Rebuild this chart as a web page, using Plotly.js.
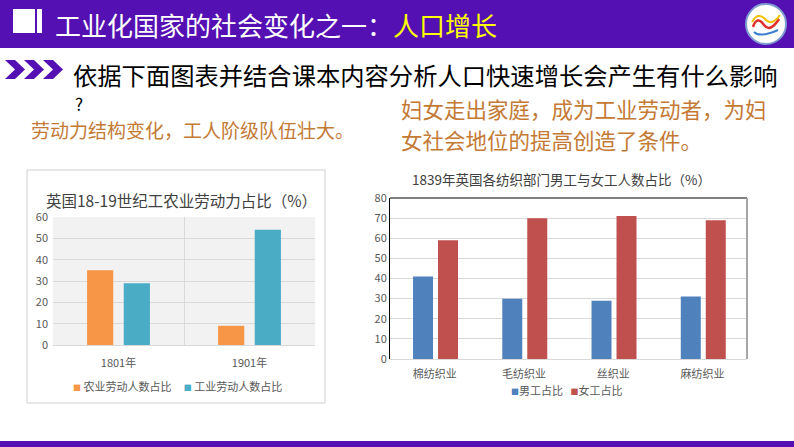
<!DOCTYPE html>
<html>
<head>
<meta charset="utf-8">
<script src="https://cdn.plot.ly/plotly-3.0.1.min.js"></script>
<style>
html,body{margin:0;padding:0;background:#fff;}
#chart{width:794px;height:447px;}
</style>
</head>
<body>
<div id="chart"></div>
<script>
// ---- Data ----
const leftTitle = '英国18-19世纪工农业劳动力占比（%）';
const leftYears = ['1801年', '1901年'];
const agriName = '农业劳动人数占比';
const agriValues = [35, 9];
const induName = '工业劳动人数占比';
const induValues = [29, 54];

const rightTitle = '1839年英国各纺织部门男工与女工人数占比（%）';
const sectors = ['棉纺织业', '毛纺织业', '丝织业', '麻纺织业'];
const maleName = '男工占比';
const maleValues = [41, 30, 29, 31];
const femaleName = '女工占比';
const femaleValues = [59, 70, 71, 69];

const slideTitle = '工业化国家的社会变化之一：';
const slideTitleHi = '人口增长';
const question = '依据下面图表并结合课本内容分析人口快速增长会产生有什么影响';
const noteLeft = '劳动力结构变化，工人阶级队伍壮大。';
const noteRight1 = '妇女走出家庭，成为工业劳动者，为妇';
const noteRight2 = '女社会地位的提高创造了条件。';

// ---- Layout helpers (pixel -> paper) ----
const W = 794, H = 447;
const px = x => x / W;
const py = y => 1 - y / H;
const pt = (x, y) => px(x).toFixed(5) + ',' + py(y).toFixed(5);
const FONT = '"Noto Sans CJK SC", "Noto Sans", sans-serif';
const PURPLE = '#5410b2';
const C_AGRI = '#F79646', C_INDU = '#4BACC6', C_MALE = '#4F81BD', C_FEMALE = '#C0504D';

const traces = [
  {type: 'bar', name: agriName, x: leftYears, y: agriValues, xaxis: 'x', yaxis: 'y',
   marker: {color: C_AGRI}, width: 0.2, offset: -0.24, hoverinfo: 'y'},
  {type: 'bar', name: induName, x: leftYears, y: induValues, xaxis: 'x', yaxis: 'y',
   marker: {color: C_INDU}, width: 0.2, offset: 0.04, hoverinfo: 'y'},
  {type: 'bar', name: maleName, x: sectors, y: maleValues, xaxis: 'x2', yaxis: 'y2',
   marker: {color: C_MALE}, width: 0.224, offset: -0.242, hoverinfo: 'y'},
  {type: 'bar', name: femaleName, x: sectors, y: femaleValues, xaxis: 'x2', yaxis: 'y2',
   marker: {color: C_FEMALE}, width: 0.224, offset: 0.038, hoverinfo: 'y'}
];

// chevrons
function chevron(x0, y0, w, h) {
  return 'M' + pt(x0, y0) + ' L' + pt(x0 + w * 0.5, y0) + ' L' + pt(x0 + w, y0 + h / 2) +
         ' L' + pt(x0 + w * 0.5, y0 + h) + ' L' + pt(x0, y0 + h) + ' L' + pt(x0 + w * 0.5, y0 + h / 2) + ' Z';
}

const shapes = [
  // header band
  {type: 'rect', xref: 'paper', yref: 'paper', x0: 0, x1: 1, y0: py(48), y1: 1, fillcolor: PURPLE, line: {width: 0}, layer: 'below'},
  // bottom band
  {type: 'rect', xref: 'paper', yref: 'paper', x0: 0, x1: 1, y0: 0, y1: py(441), fillcolor: PURPLE, line: {width: 0}, layer: 'below'},
  // header icon
  {type: 'rect', xref: 'paper', yref: 'paper', x0: px(13), x1: px(35), y0: py(33), y1: py(9), fillcolor: '#ffffff', line: {width: 0}},
  {type: 'rect', xref: 'paper', yref: 'paper', x0: px(37), x1: px(42), y0: py(33), y1: py(9), fillcolor: '#ffffff', line: {width: 0}},
  // logo
  {type: 'circle', xref: 'paper', yref: 'paper', x0: px(746), x1: px(786), y0: py(44), y1: py(4), fillcolor: '#ffffff', line: {color: '#7f9cd0', width: 2}},
  {type: 'path', xref: 'paper', yref: 'paper', path: 'M' + pt(753, 27) + ' Q' + pt(757, 15) + ' ' + pt(764, 25) + ' Q' + pt(770, 33) + ' ' + pt(779, 19), line: {color: '#e0302a', width: 2.5}},
  {type: 'path', xref: 'paper', yref: 'paper', path: 'M' + pt(752, 22) + ' Q' + pt(758, 11) + ' ' + pt(766, 20) + ' Q' + pt(772, 26) + ' ' + pt(780, 15), line: {color: '#f2c200', width: 2}},
  {type: 'path', xref: 'paper', yref: 'paper', path: 'M' + pt(754, 32) + ' Q' + pt(760, 38) + ' ' + pt(778, 30), line: {color: '#3a7fd0', width: 2}},
  // chevrons
  {type: 'path', xref: 'paper', yref: 'paper', path: chevron(5, 60, 20, 19), fillcolor: PURPLE, line: {width: 0}},
  {type: 'path', xref: 'paper', yref: 'paper', path: chevron(24, 60, 20, 19), fillcolor: PURPLE, line: {width: 0}},
  {type: 'path', xref: 'paper', yref: 'paper', path: chevron(43, 60, 20, 19), fillcolor: PURPLE, line: {width: 0}},
  // left chart frame
  {type: 'rect', xref: 'paper', yref: 'paper', x0: px(27), x1: px(325), y0: py(403), y1: py(170), line: {color: '#d0d0d0', width: 1}},
  // left plot background
  {type: 'rect', xref: 'x domain', yref: 'y domain', x0: 0, x1: 1, y0: 0, y1: 1, fillcolor: '#f2f2f2', line: {width: 0}, layer: 'below'},
  // right plot top and right border
  {type: 'line', xref: 'x2 domain', yref: 'y2 domain', x0: 0, x1: 1, y0: 1, y1: 1, line: {color: '#000000', width: 1}},
  {type: 'line', xref: 'x2 domain', yref: 'y2 domain', x0: 1, x1: 1, y0: 0, y1: 1, line: {color: '#a6a6a6', width: 2}}
];

const ann = (text, x, y, size, color, anchor) => ({
  text: text, xref: 'paper', yref: 'paper', x: px(x), y: py(y), xanchor: anchor || 'left', yanchor: 'middle',
  showarrow: false, font: {family: FONT, size: size, color: color}, align: 'left'
});

const sq = c => '<span style="color:' + c + ';font-size:8px">■</span>';

const annotations = [
  ann(slideTitle + '<span style="color:#FFFF00">' + slideTitleHi + '</span>', 53, 25, 26, '#ffffff'),
  ann(question, 71, 75, 24.3, '#000000'),
  ann('?', 73, 104, 17, '#000000'),
  ann(noteLeft, 29, 129, 19, '#C47A35'),
  ann(noteRight1, 399, 108, 21.5, '#C47A35'),
  ann(noteRight2, 399, 139, 21.5, '#C47A35'),
  ann(leftTitle, 181, 200, 15.5, '#404040', 'center'),
  ann(rightTitle, 561, 179, 13.5, '#404040', 'center'),
  // legends
  ann(sq(C_AGRI) + ' ' + agriName + '     ' + sq(C_INDU) + ' ' + induName, 177, 386, 11, '#595959', 'center'),
  ann(sq(C_MALE) + maleName + '   ' + sq(C_FEMALE) + femaleName, 566, 390, 11, '#595959', 'center')
];

const tickFont = {family: FONT, size: 11, color: '#595959'};

const layout = {
  width: W, height: H,
  margin: {l: 0, r: 0, t: 0, b: 0},
  paper_bgcolor: '#ffffff', plot_bgcolor: 'rgba(0,0,0,0)',
  font: {family: FONT},
  barmode: 'group',
  showlegend: false,
  xaxis: {domain: [px(53), px(315)], anchor: 'y', type: 'category', tickson: 'boundaries',
          showgrid: true, gridcolor: '#d9d9d9', ticks: '', tickfont: tickFont, ticklabelstandoff: 8,
          showline: true, linecolor: '#d9d9d9', fixedrange: true},
  yaxis: {domain: [py(345), py(217)], anchor: 'x', range: [0, 60], dtick: 10,
          gridcolor: '#d9d9d9', zeroline: false, ticks: '', tickfont: tickFont, ticklabelstandoff: 4, fixedrange: true},
  xaxis2: {domain: [px(390), px(747)], anchor: 'y2', type: 'category', showgrid: false,
           ticks: '', tickfont: tickFont, ticklabelstandoff: 5, showline: true, linecolor: '#d9d9d9', fixedrange: true},
  yaxis2: {domain: [py(359), py(198)], anchor: 'x2', range: [0, 80], dtick: 10,
           gridcolor: '#d9d9d9', zeroline: false, ticks: '', tickfont: tickFont,
           showline: true, linecolor: '#000000', linewidth: 1, fixedrange: true},
  shapes: shapes,
  annotations: annotations
};

Plotly.newPlot('chart', traces, layout, {displayModeBar: false, staticPlot: true});
</script>
</body>
</html>
